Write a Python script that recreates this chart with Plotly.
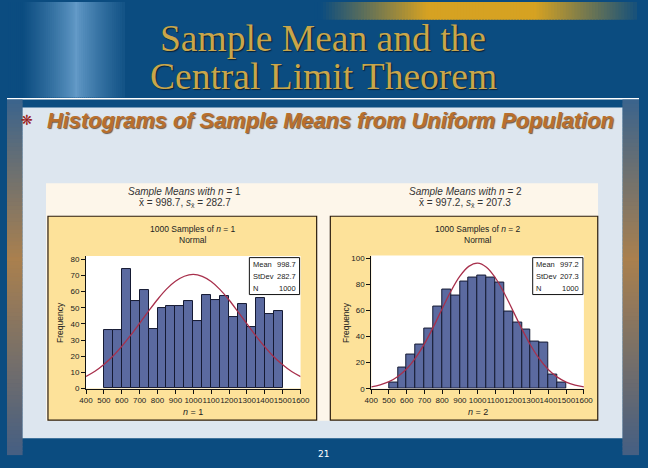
import plotly.graph_objects as go

W, H = 648, 468

# ---------------- data ----------------
bin_left = [500, 550, 600, 650, 700, 750, 800, 850, 900, 950,
            1000, 1050, 1100, 1150, 1200, 1250, 1300, 1350, 1400, 1450]
bin_width = 50
freq_n1 = [36, 36, 74, 54, 61, 37, 50, 51, 51, 54,
           42, 58, 55, 57, 44, 52, 38, 56, 46, 48]
freq_n2 = [5, 16, 26, 34, 46, 63, 76, 71, 82, 85,
           87, 85, 81, 59, 51, 45, 36, 35, 11, 5]
curve_x = [400, 450, 500, 550, 600, 650, 700, 750, 800, 850, 900, 950, 1000,
           1050, 1100, 1150, 1200, 1250, 1300, 1350, 1400, 1450, 1500, 1550, 1600]
curve_n1 = [7.5, 10.7, 14.9, 20.0, 26.1, 33.0, 40.4, 47.9, 55.1, 61.5, 66.4, 69.5, 70.6,
            69.4, 66.2, 61.2, 54.8, 47.5, 40.0, 32.6, 25.8, 19.7, 14.7, 10.5, 7.4]
curve_n2 = [1.5, 3.0, 5.4, 9.4, 15.3, 23.7, 34.4, 47.2, 61.2, 74.8, 86.2, 93.7, 96.2,
            93.1, 85.0, 73.3, 59.6, 45.8, 33.1, 22.6, 14.6, 8.9, 5.1, 2.8, 1.4]
x_ticks = [400, 500, 600, 700, 800, 900, 1000, 1100, 1200, 1300, 1400, 1500, 1600]
y_ticks_n1 = [0, 10, 20, 30, 40, 50, 60, 70, 80]
y_ticks_n2 = [0, 20, 40, 60, 80, 100]
stats_n1 = {"Mean": "998.7", "StDev": "282.7", "N": "1000"}
stats_n2 = {"Mean": "997.2", "StDev": "207.3", "N": "1000"}
xbar_n1, sxbar_n1 = "998.7", "282.7"
xbar_n2, sxbar_n2 = "997.2", "207.3"

# ---------------- helpers ----------------
def fx(x):
    return x / W

def fy(y):
    return 1 - y / H

shapes = []

def rect(x0, y0, x1, y1, color, line_color=None, lw=0, layer="below"):
    shapes.append(dict(type="rect", xref="paper", yref="paper",
                       x0=fx(x0), x1=fx(x1), y0=fy(y1), y1=fy(y0),
                       fillcolor=color, layer=layer,
                       line=dict(color=line_color or color, width=lw)))

def lerp(c1, c2, t):
    return "rgb(%d,%d,%d)" % tuple(round(a + (b - a) * t) for a, b in zip(c1, c2))

annotations = []

def text(x, y, s, size=8, color="#222", family="Liberation Sans", xanchor="center",
         yanchor="middle", angle=0, shadow=None):
    f = dict(size=size, color=color, family=family)
    if shadow:
        f["shadow"] = shadow
    annotations.append(dict(xref="paper", yref="paper", x=fx(x), y=fy(y), text=s,
                            showarrow=False, xanchor=xanchor, yanchor=yanchor,
                            textangle=angle, font=f, borderpad=0))

# ---------------- slide background ----------------
navy = (11, 76, 128)
# title banner texture on the left (soft light streak)
for i in range(60):
    x0 = i * 2
    t = abs(x0 - 70) / 55.0
    c = lerp((100, 155, 200), navy, min(1, t ** 0.8))
    rect(x0, 0, x0 + 3, 97, c)
# orange gradient at top right
for i in range(110):
    x0 = 315 + i * 3
    t = 1 - abs((x0 - 485) / 165.0)
    c = lerp(navy, (214, 162, 34), max(0, min(1, t * 1.5)))
    rect(x0, 0, x0 + 4, 18, c)
# white rule under the title
rect(0, 97.5, W, 99, "#ffffff")
# side strips
side_top = (60, 100, 140)
side_mid = (170, 128, 78)
side_bot = (70, 95, 130)
for i in range(90):
    y0 = 99 + i * 4
    t = i / 89.0
    if t < 0.45:
        c = lerp(side_top, side_mid, t / 0.45)
    else:
        c = lerp(side_mid, side_bot, (t - 0.45) / 0.55)
    rect(0, y0, 16, y0 + 5, c)
    rect(631, y0, W, y0 + 5, c)
# light panel
rect(16, 107, 631, 443, "#dde6ef")
# chart caption area (cream)
rect(40, 184, 606, 425, "#fdf6ea")
# yellow chart boxes
rect(42, 217.5, 317.5, 424.5, "#fde29a", "#2b1d0e", 1.2)
rect(331.5, 217.5, 605.7, 424.5, "#fde29a", "#2b1d0e", 1.2)
# white plot areas
L = dict(x0=81.0, x1=301.0, y0=257.9, y1=392.4)
R = dict(x0=373.5, x1=591.5, y0=257.4, y1=392.6)
rect(L["x0"], L["y0"], L["x1"], L["y1"], "#ffffff")
rect(R["x0"], R["y0"], R["x1"], R["y1"], "#ffffff")

# stats boxes
def stats_box(x0, x1, y0, y1, stats):
    rect(x0, y0, x1, y1, "#ffffff", "#111111", 1, layer="above")
    ys = [y0 + 7, y0 + 19, y0 + 31]
    for (k, v), yy in zip(stats.items(), ys):
        text(x0 + 2.5, yy, k, size=7.5, xanchor="left")
        text(x1 - 2.5, yy, v, size=7.5, xanchor="right")

stats_box(248.5, 300.0, 259.5, 297.0, stats_n1)
stats_box(539.0, 590.5, 259.5, 297.0, stats_n2)

# ---------------- traces ----------------
bar_color = "#5b6aa0"
edge_color = "#151a33"
curve_color = "#a8304c"
centers = [b + bin_width / 2 for b in bin_left]

fig = go.Figure()
fig.add_trace(go.Bar(x=centers, y=freq_n1, width=bin_width, marker=dict(color=bar_color,
              line=dict(color=edge_color, width=1)), xaxis="x", yaxis="y", showlegend=False))
fig.add_trace(go.Scatter(x=curve_x, y=curve_n1, mode="lines", line=dict(color=curve_color,
              width=1.3, shape="spline"), xaxis="x", yaxis="y", showlegend=False))
fig.add_trace(go.Bar(x=centers, y=freq_n2, width=bin_width, marker=dict(color=bar_color,
              line=dict(color=edge_color, width=1)), xaxis="x2", yaxis="y2", showlegend=False))
fig.add_trace(go.Scatter(x=curve_x, y=curve_n2, mode="lines", line=dict(color=curve_color,
              width=1.3, shape="spline"), xaxis="x2", yaxis="y2", showlegend=False))

tickfont = dict(size=8, color="#222", family="Liberation Sans")
axis_common = dict(showgrid=False, zeroline=False, showline=True, linecolor="#111",
                   linewidth=1, ticks="outside", ticklen=4, tickcolor="#111",
                   tickwidth=1, tickfont=tickfont, fixedrange=True)

# ---------------- text ----------------
gold = "#c9a64a"
text(324, 37, "Sample Mean and the", size=37.5, color=gold, family="Liberation Serif",
     shadow="1px 1px 1px #0a2035")
text(325, 76, "Central Limit Theorem", size=37.5, color=gold, family="Liberation Serif",
     shadow="1px 1px 1px #0a2035")
text(21, 120, "❋", size=14, color="#9a1c1c", family="DejaVu Sans")
text(40, 120, "<b><i>Histograms of Sample Means from Uniform Population</i></b>", size=21.8,
     color="#b96f2c", family="Liberation Sans", xanchor="left",
     shadow="1px 1px 1px #6b5a4a")
text(324, 459, "21", size=9, color="#ffffff", family="DejaVu Sans")

for cx, n, xb, sx in [(182, 1, xbar_n1, sxbar_n1), (470, 2, xbar_n2, sxbar_n2)]:
    text(cx, 192.5, "<i>Sample Means with n</i> = %d" % n, size=10, color="#333")
    text(cx, 204.5, "x̄ = %s, <i>s</i><sub>x̄</sub> = %s" % (xb, sx), size=10, color="#333")

for P, n in [(L, 1), (R, 2)]:
    cx = (P["x0"] + P["x1"]) / 2
    text(cx, 230, "1000 Samples of <i>n</i> = %d" % n, size=8.5)
    text(cx, 241.5, "Normal", size=8.5)
    text(cx, 416.5, "<i>n</i> = %d" % n, size=9)
    text(P["x0"] - 26, (P["y0"] + P["y1"]) / 2, "Frequency", size=8.5, angle=-90)

fig.update_layout(
    width=W, height=H, autosize=False,
    margin=dict(l=0, r=0, t=0, b=0),
    paper_bgcolor="rgb(11,76,128)", plot_bgcolor="rgba(0,0,0,0)",
    barmode="overlay", bargap=0,
    shapes=shapes, annotations=annotations,
    xaxis=dict(domain=[fx(L["x0"]), fx(L["x1"])], range=[400, 1600], tickvals=x_ticks,
               tickangle=0, anchor="y", **axis_common),
    yaxis=dict(domain=[fy(L["y1"]), fy(L["y0"])], range=[0, 82], tickvals=y_ticks_n1,
               anchor="x", **axis_common),
    xaxis2=dict(domain=[fx(R["x0"]), fx(R["x1"])], range=[400, 1600], tickvals=x_ticks,
                tickangle=0, anchor="y2", **axis_common),
    yaxis2=dict(domain=[fy(R["y1"]), fy(R["y0"])], range=[0, 102], tickvals=y_ticks_n2,
                anchor="x2", **axis_common),
)

fig.write_html("out.html")
